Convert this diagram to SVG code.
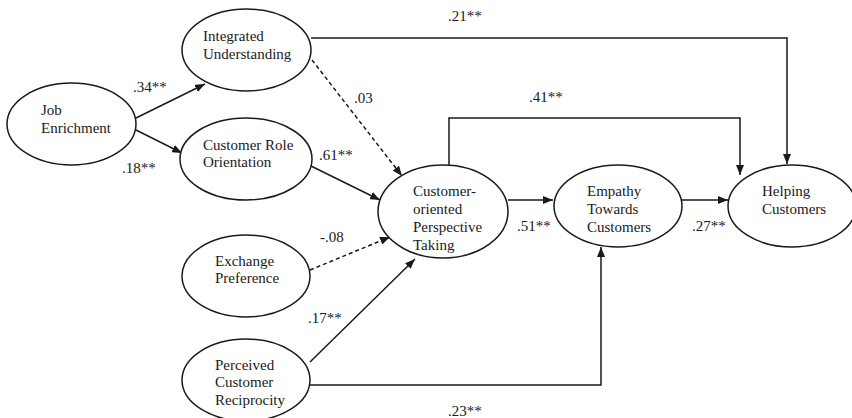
<svg xmlns="http://www.w3.org/2000/svg" width="852" height="418" viewBox="0 0 852 418">
<style>
.n{fill:#fff;stroke:#1a1a1a;stroke-width:1.5}
.t{font-family:"Liberation Serif","Times New Roman",serif;font-size:15px;fill:#1a1a1a}
.e{fill:none;stroke:#1a1a1a;stroke-width:1.5}
.d{stroke-dasharray:4 3}
</style>
<defs>
<marker id="a" viewBox="0 0 10 8" refX="10" refY="4" markerWidth="10" markerHeight="8" markerUnits="userSpaceOnUse" orient="auto">
<path d="M0,0 L10,4 L0,8 z" fill="#1a1a1a"/>
</marker>
</defs>
<rect width="852" height="418" fill="#fff"/>
<g id="connectors">
<path class="e" d="M136,118 L205,84" marker-end="url(#a)"/>
<path class="e" d="M136,130 L182,153" marker-end="url(#a)"/>
<path class="e d" d="M312,60 L402,176" marker-end="url(#a)"/>
<path class="e" d="M311,166 L380,200" marker-end="url(#a)"/>
<path class="e d" d="M310,270 L390,237" marker-end="url(#a)"/>
<path class="e" d="M310,362 L415,259" marker-end="url(#a)"/>
<path class="e" d="M310,385 H601 V247" marker-end="url(#a)"/>
<path class="e" d="M508,200 H553" marker-end="url(#a)"/>
<path class="e" d="M682,200 H728" marker-end="url(#a)"/>
<path class="e" d="M449,166 V118 H740 V175" marker-end="url(#a)"/>
<path class="e" d="M311,38 H787 V164" marker-end="url(#a)"/>
</g>
<g id="labels" class="t">
<text x="133" y="92">.34**</text>
<text x="122" y="173">.18**</text>
<text x="448" y="21">.21**</text>
<text x="354" y="103">.03</text>
<text x="529" y="102">.41**</text>
<text x="319" y="160">.61**</text>
<text x="320" y="242">-.08</text>
<text x="308" y="323">.17**</text>
<text x="517" y="231">.51**</text>
<text x="692" y="231">.27**</text>
<text x="448" y="416">.23**</text>
</g>
<g id="job-enrichment">
<ellipse class="n" cx="71.5" cy="124" rx="64.5" ry="41"/>
<text class="t" x="41" y="115">Job</text>
<text class="t" x="41" y="133">Enrichment</text>
</g>
<g id="integrated-understanding">
<ellipse class="n" cx="246.5" cy="50" rx="64.5" ry="41"/>
<text class="t" x="203" y="41">Integrated</text>
<text class="t" x="203" y="59">Understanding</text>
</g>
<g id="customer-role-orientation">
<ellipse class="n" cx="246" cy="159" rx="66" ry="41"/>
<text class="t" x="203" y="150">Customer Role</text>
<text class="t" x="203" y="167">Orientation</text>
</g>
<g id="exchange-preference">
<ellipse class="n" cx="246" cy="276" rx="64" ry="41"/>
<text class="t" x="215" y="266">Exchange</text>
<text class="t" x="215" y="283">Preference</text>
</g>
<g id="perceived-customer-reciprocity">
<ellipse class="n" cx="246" cy="380" rx="64" ry="41"/>
<text class="t" x="215" y="370">Perceived</text>
<text class="t" x="215" y="387">Customer</text>
<text class="t" x="215" y="405">Reciprocity</text>
</g>
<g id="customer-oriented-perspective-taking">
<ellipse class="n" cx="443" cy="211.5" rx="65" ry="46.5"/>
<text class="t" x="413" y="196">Customer-</text>
<text class="t" x="413" y="214">oriented</text>
<text class="t" x="413" y="232">Perspective</text>
<text class="t" x="413" y="250">Taking</text>
</g>
<g id="empathy-towards-customers">
<ellipse class="n" cx="618" cy="206" rx="64" ry="41"/>
<text class="t" x="587" y="196">Empathy</text>
<text class="t" x="587" y="214">Towards</text>
<text class="t" x="587" y="232">Customers</text>
</g>
<g id="helping-customers">
<ellipse class="n" cx="792" cy="206" rx="64" ry="41"/>
<text class="t" x="762" y="196">Helping</text>
<text class="t" x="762" y="214">Customers</text>
</g>
</svg>
